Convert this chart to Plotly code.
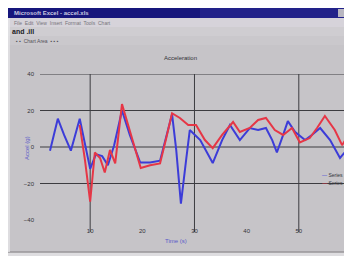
import plotly.graph_objects as go

# ---- data ----
red_x = [8.0, 9.0, 10.0, 10.9, 11.9, 12.8, 13.8, 14.8, 16.1, 17.3, 18.6, 19.7, 21.5, 23.4,
         24.5, 25.7, 27.2, 28.8, 30.3, 32.0, 33.5, 35.3, 37.4, 38.7, 40.6, 42.2, 43.7, 45.4,
         47.0, 48.7, 50.2, 52.1, 53.5, 55.0, 56.9, 58.3, 59.8]
red_y = [12.1, -7.1, -30.0, -3.0, -6.0, -14.0, -1.6, -9.0, 23.5, 12.1, -1.6, -11.5, -10.0, -9.0,
         3.8, 18.5, 15.9, 12.1, 12.1, 3.8, -0.6, 6.6, 13.7, 8.2, 10.4, 14.8, 15.9, 9.3,
         6.6, 10.4, 2.5, 4.9, 10.4, 17.0, 9.3, 1.0, 8.0]

blue_x = [2.3, 3.8, 5.0, 6.3, 8.0, 9.2, 10.0, 11.1, 12.3, 13.4, 14.6, 16.1, 17.6, 19.6, 21.5,
          23.4, 24.5, 25.7, 26.5, 27.4, 28.4, 29.1, 31.1, 32.6, 33.5, 35.3, 36.8, 38.7, 40.6,
          42.2, 43.7, 44.9, 45.8, 47.0, 47.9, 49.3, 51.2, 52.5, 54.1, 56.0, 57.9, 59.2, 60.2]
blue_y = [-2.0, 15.5, 6.6, -2.0, 15.5, -1.6, -12.0, -4.0, -5.0, -10.0, 1.0, 20.0, 6.6, -8.5, -8.5,
          -7.5, 4.9, 18.0, -1.6, -31.0, -7.1, 9.3, 3.8, -4.4, -8.8, 3.8, 12.1, 3.8, 10.4,
          9.3, 10.4, 3.8, -3.0, 6.6, 14.2, 8.2, 3.8, 6.6, 10.4, 3.8, -6.0, -1.6, 4.0]

series_names = ["Series 1", "Series 2"]
series_colors = ["#3c3cd8", "#e63646"]

y_grid = [40, 20, 0, -20]
x_grid = [10, 30, 50, 60]
y_ticks = [40, 20, 0, -20, -40]
x_ticks = [10, 20, 30, 40, 50, 60]

# page has an 8px body margin: figure occupies page pixels 8..352 x 8..256
OFF = 8
W, H = 352 - OFF, 256 - OFF
def PX(p): return (p - OFF) / W
def PY(p): return 1 - (p - OFF) / H

fig = go.Figure()
fig.add_trace(go.Scatter(x=blue_x, y=blue_y, mode="lines", name=series_names[0],
                         line=dict(color=series_colors[0], width=2)))
fig.add_trace(go.Scatter(x=red_x, y=red_y, mode="lines", name=series_names[1],
                         line=dict(color=series_colors[1], width=2)))

shapes = []
def rect(x0, x1, y0, y1, color):
    shapes.append(dict(type="rect", xref="paper", yref="paper", x0=PX(x0), x1=PX(x1),
                       y0=PY(y1), y1=PY(y0), fillcolor=color, line=dict(width=0), layer="below"))

# window chrome
rect(8, 352, 8, 256, "#c6c4c8")
rect(8, 352, 8, 18, "#16167c")
rect(200, 352, 8, 18, "#22228a")
rect(338, 352, 9, 17, "#b8b6c0")
rect(8, 352, 18, 27, "#d6d3da")
rect(8, 352, 27, 36, "#cfcdd1")
rect(8, 352, 36, 45, "#cac8cc")
rect(8, 352, 252, 256, "#dedde0")
shapes.append(dict(type="line", xref="paper", yref="paper", x0=0, x1=1, y0=PY(252), y1=PY(252),
                   line=dict(color="#98969a", width=1.5), layer="below"))
shapes.append(dict(type="line", xref="paper", yref="paper", x0=PX(9), x1=PX(9), y0=PY(252), y1=PY(18),
                   line=dict(color="#e6e6e8", width=1.5), layer="below"))
# grid lines
for g in y_grid:
    shapes.append(dict(type="line", xref="paper", yref="y", x0=PX(40), x1=1, y0=g, y1=g,
                       line=dict(color="#3c3c40", width=1), layer="below"))
for g in x_grid:
    shapes.append(dict(type="line", xref="x", yref="paper", x0=g, x1=g, y0=PY(232), y1=PY(74),
                       line=dict(color="#3c3c40", width=1), layer="below"))

ann = []
small = dict(family="Liberation Sans, Arial, sans-serif", size=6, color="#333338")
ann.append(dict(text="<b>Microsoft Excel - accel.xls</b>", x=PX(12), y=PY(13), xref="paper", yref="paper",
                xanchor="left", yanchor="middle", showarrow=False,
                font=dict(family="Liberation Sans, Arial", size=6, color="#c8c8e0")))
ann.append(dict(text="File  Edit  View  Insert  Format  Tools  Chart", x=PX(12), y=PY(22.5),
                xref="paper", yref="paper", xanchor="left", yanchor="middle", showarrow=False,
                font=dict(family="Liberation Sans, Arial", size=5, color="#77757b")))
ann.append(dict(text="<b>and .ill</b>", x=PX(10), y=PY(31.5), xref="paper", yref="paper",
                xanchor="left", yanchor="middle", showarrow=False,
                font=dict(family="Liberation Sans, Arial", size=7, color="#202024")))
ann.append(dict(text="\u25aa \u25aa  Chart Area  \u25aa \u25aa \u25aa", x=PX(14), y=PY(40.5),
                xref="paper", yref="paper", xanchor="left", yanchor="middle", showarrow=False,
                font=dict(family="Liberation Sans, Arial", size=5, color="#55535a")))
ann.append(dict(text="Acceleration", x=PX(180), y=PY(58), xref="paper", yref="paper",
                xanchor="center", yanchor="middle", showarrow=False, font=small))
ann.append(dict(text="Accel (g)", x=PX(27), y=PY(148), xref="paper", yref="paper", textangle=-90,
                xanchor="center", yanchor="middle", showarrow=False,
                font=dict(family="Liberation Sans, Arial", size=6, color="#5a5ac8")))
ann.append(dict(text="Time (s)", x=PX(176), y=PY(241), xref="paper", yref="paper",
                xanchor="center", yanchor="middle", showarrow=False,
                font=dict(family="Liberation Sans, Arial", size=6, color="#5a5ac8")))
for i, (nm, col) in enumerate(zip(series_names, series_colors)):
    ann.append(dict(text=f"<span style='color:{col}'>\u2014</span> {nm}", x=PX(349), y=PY(175 + 8 * i),
                    xref="paper", yref="paper", xanchor="right", yanchor="middle", showarrow=False,
                    font=dict(family="Liberation Sans, Arial", size=5, color="#333338")))

fig.update_layout(
    width=W, height=H, margin=dict(l=0, r=0, t=0, b=0, autoexpand=False),
    paper_bgcolor="#c6c4c8", plot_bgcolor="rgba(0,0,0,0)",
    shapes=shapes, annotations=ann, showlegend=False,
    xaxis=dict(domain=[PX(38), 1], range=[0, 60.2], showgrid=False, zeroline=False,
               tickvals=x_ticks, ticks="", tickfont=small, showline=False, ticklabelstandoff=6,
               automargin=False),
    yaxis=dict(domain=[PY(220), PY(74)], range=[-40, 40], showgrid=False, zeroline=False,
               tickvals=y_ticks, ticks="", tickfont=small, showline=False, ticklabelstandoff=3,
               automargin=False),
)
fig.write_html("out.html")
